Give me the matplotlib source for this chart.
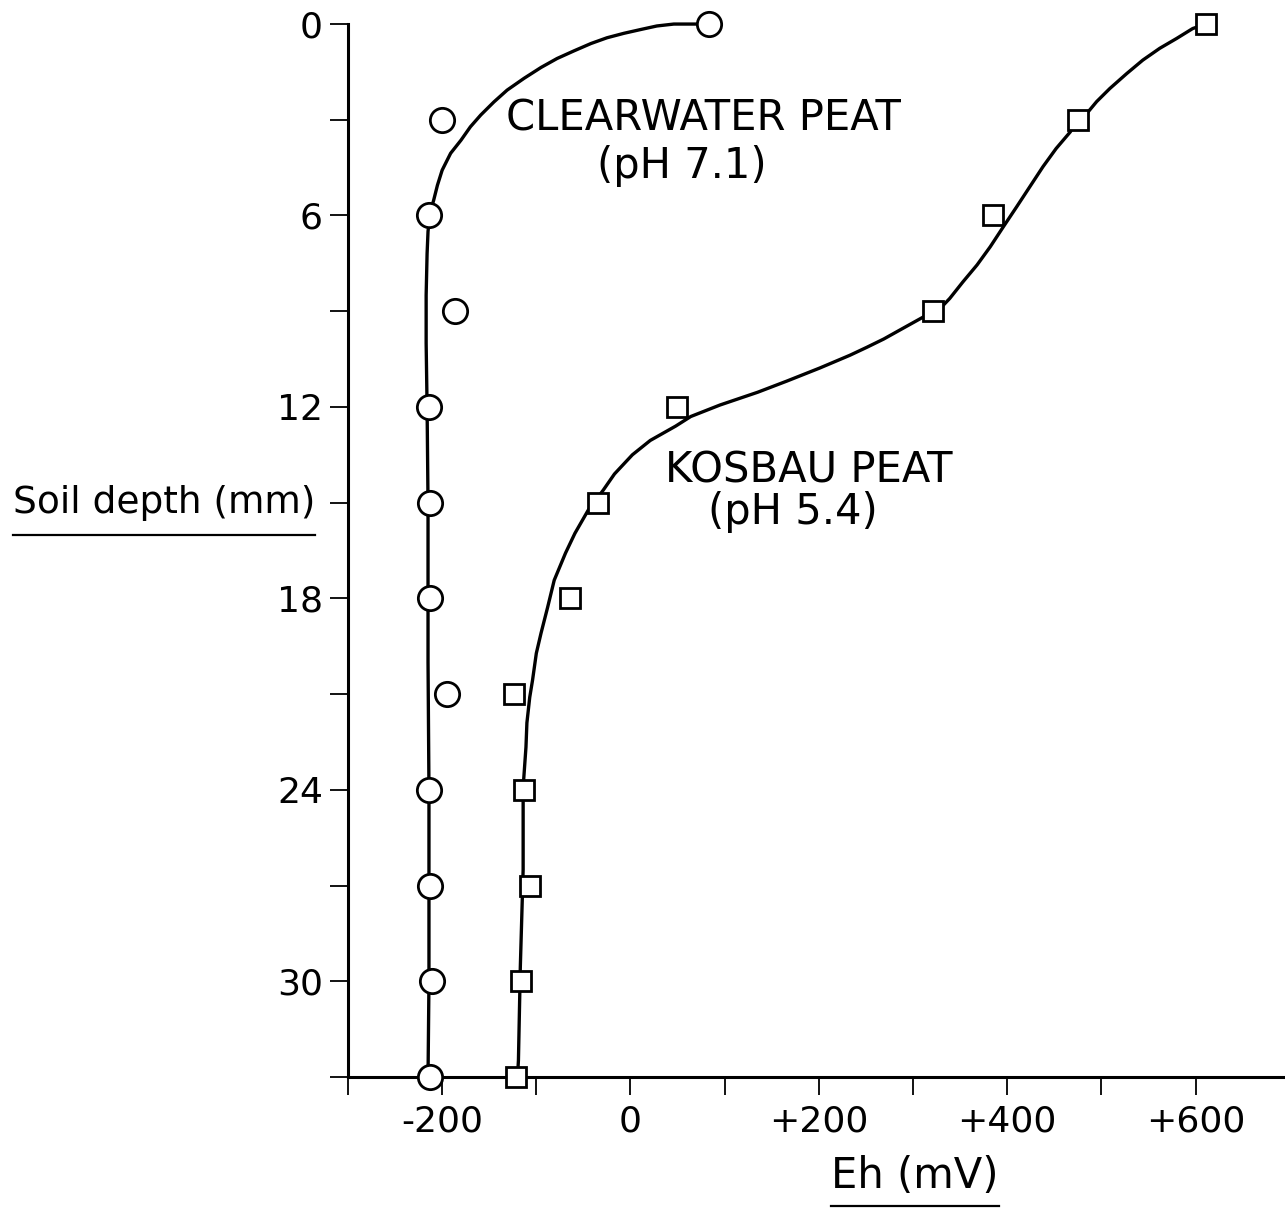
import matplotlib
matplotlib.use("Agg")
import matplotlib.pyplot as plt
from matplotlib.lines import Line2D
from matplotlib.ticker import MultipleLocator, FixedLocator

# measured Eh (mV) at each soil depth (mm)
depth = [0, 3, 6, 9, 12, 15, 18, 21, 24, 27, 30, 33]
eh_clearwater = [83, -200, -214, -186, -214, -213, -213, -195, -214, -213, -211, -213]
eh_kosbau = [611, 475, 385, 321, 49, -35, -64, -124, -113, -107, -116, -122]

# hand-fitted curves through each profile
fit_cw_depth = [0, 0.0, 0.06, 0.17, 0.29, 0.43, 0.61, 0.84, 1.08, 1.36, 1.70, 2.07,
                2.44, 2.85, 3.22, 3.64, 4.05, 4.58, 5.05, 5.52, 5.93, 6.5, 7.2,
                8.5, 10, 12, 15, 20, 24, 27, 30, 33]
fit_cw_eh = [83, 46, 28, 11, -7, -25, -42, -60, -78, -95, -113, -131,
             -145, -159, -170, -180, -191, -200, -205, -209, -213, -215, -216,
             -217, -217, -216, -215, -215, -214, -214, -214, -215]

fit_kb_depth = [0, 0.14, 0.45, 0.76, 1.13, 1.55, 2.02, 2.43, 2.75, 2.98, 3.38, 3.9,
                4.47, 5.1, 5.73, 6.35, 6.98, 7.55, 8.08, 8.6, 8.91, 9.18, 9.59,
                9.87, 10.13, 10.38, 10.78, 11.19, 11.54, 11.94, 12.3, 12.6, 13.05,
                13.5, 14.1, 14.61, 15.24, 15.96, 16.58, 17.43, 18.28, 19.09, 19.72,
                20.56, 21.1, 21.9, 22.66, 23.92, 26.5, 29.56, 32.48, 33]
fit_kb_eh = [611, 597, 580, 562, 544, 527, 509, 495, 486, 475, 467, 452,
             438, 424, 410, 396, 382, 368, 353, 339, 329, 311, 286,
             269, 251, 233, 201, 166, 135, 95, 64, 48, 21,
             2, -17, -29, -45, -59, -69, -81, -88, -95, -100,
             -104, -107, -110, -111, -114, -114, -117, -119, -120]

xtick_values = [-200, 0, 200, 400, 600]
xtick_labels = ["-200", "0", "+200", "+400", "+600"]
ytick_values = [0, 6, 12, 18, 24, 30]

plt.rcParams['font.family'] = ['DejaVu Sans']

fig = plt.figure(figsize=(12.85, 12.09), dpi=100)
ax = fig.add_axes([0.2708, 0.1092, 0.7292, 0.8709])

ax.plot(fit_cw_eh, fit_cw_depth, color="black", lw=2.4, solid_joinstyle="round",
        solid_capstyle="round", zorder=2, clip_on=False)
ax.plot(fit_kb_eh, fit_kb_depth, color="black", lw=2.4, solid_joinstyle="round",
        solid_capstyle="round", zorder=2, clip_on=False)
ax.plot(eh_clearwater, depth, linestyle="none", marker="o", markersize=17.5,
        markerfacecolor="white", markeredgecolor="black", markeredgewidth=2.0,
        zorder=4, clip_on=False)
ax.plot(eh_kosbau, depth, linestyle="none", marker="s", markersize=15,
        markerfacecolor="white", markeredgecolor="black", markeredgewidth=2.0,
        zorder=4, clip_on=False)

ax.set_xlim(-300, 695)
ax.set_ylim(33, 0)

for side in ["top", "right"]:
    ax.spines[side].set_visible(False)
for side in ["left", "bottom"]:
    ax.spines[side].set_linewidth(2.2)

ax.xaxis.set_major_locator(FixedLocator(xtick_values))
ax.set_xticklabels(xtick_labels)
ax.xaxis.set_minor_locator(FixedLocator([-300, -100, 100, 300, 500]))
ax.yaxis.set_major_locator(FixedLocator(ytick_values))
ax.yaxis.set_minor_locator(MultipleLocator(3))
ax.tick_params(which="both", direction="out", length=13, width=1.3, color="black")
ax.tick_params(axis="x", which="major", labelsize=26, pad=7)
ax.tick_params(axis="y", which="major", labelsize=26, pad=5)

ax.text(77, 2.95, "CLEARWATER PEAT", fontsize=30, ha="center", va="center")
ax.text(54, 4.45, "(pH 7.1)", fontsize=30, ha="center", va="center")
ax.text(189, 13.98, "KOSBAU PEAT", fontsize=30, ha="center", va="center")
ax.text(172, 15.3, "(pH 5.4)", fontsize=30, ha="center", va="center")

W, H = 1285, 1209
ylab = fig.text(164 / W, 1 - 503 / H, "Soil depth (mm)", fontsize=27,
                ha="center", va="center")
xlab = fig.text(915 / W, 1 - 1176 / H, "Eh (mV)", fontsize=30,
                ha="center", va="center")

# underline the two axis titles
fig.canvas.draw()
renderer = fig.canvas.get_renderer()
for label, y_px in [(ylab, 535), (xlab, 1206)]:
    bb = label.get_window_extent(renderer)
    fig.add_artist(Line2D([bb.x0 / W, bb.x1 / W], [1 - y_px / H, 1 - y_px / H],
                          transform=fig.transFigure, color="black", lw=1.6))

fig.savefig("out.png", dpi=100)
